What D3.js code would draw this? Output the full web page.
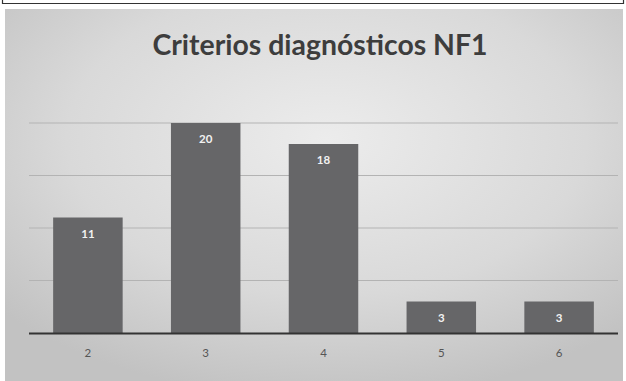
<!DOCTYPE html>
<html>
<head>
<meta charset="utf-8">
<script src="https://cdn.jsdelivr.net/npm/d3@7"></script>
<style>
  html, body { margin: 0; padding: 0; background: #fff; }
  svg { display: block; }
</style>
</head>
<body>
<div id="chart"></div>
<script>
const categories = ["2", "3", "4", "5", "6"];
const values = [11, 20, 18, 3, 3];
const gridTicks = [0, 5, 10, 15, 20];
const title = "Criterios diagnósticos NF1";

const W = 626, H = 381;

const svg = d3.select("#chart").append("svg")
  .attr("width", W)
  .attr("height", H);

const defs = svg.append("defs");
const grad = defs.append("radialGradient")
  .attr("id", "bg")
  .attr("cx", "52%").attr("cy", "35%").attr("r", "70%");
grad.append("stop").attr("offset", "0%").attr("stop-color", "#ececec");
grad.append("stop").attr("offset", "60%").attr("stop-color", "#d9d9d9");
grad.append("stop").attr("offset", "100%").attr("stop-color", "#c2c2c2");

// top frame remnant
svg.append("path")
  .attr("d", "M2.5,0 V3.5 H623.5 V0")
  .attr("fill", "none")
  .attr("stroke", "#333")
  .attr("stroke-width", 1.2);

// chart area
svg.append("rect")
  .attr("x", 5).attr("y", 9)
  .attr("width", 618).attr("height", H - 9)
  .attr("fill", "url(#bg)");

const x = d3.scaleBand()
  .domain(categories)
  .range([29, 618])
  .paddingInner(0.41)
  .paddingOuter(0.205);

const y = d3.scaleLinear()
  .domain([0, 20])
  .range([333, 123]);

// gridlines
svg.append("g")
  .selectAll("line")
  .data(gridTicks.filter(d => d > 0))
  .join("line")
  .attr("x1", 29).attr("x2", 618)
  .attr("y1", d => y(d)).attr("y2", d => y(d))
  .attr("stroke", "#b3b3b3")
  .attr("stroke-width", 1.2);

// bars
svg.append("g")
  .selectAll("rect")
  .data(values)
  .join("rect")
  .attr("x", (d, i) => x(categories[i]))
  .attr("y", d => y(d))
  .attr("width", x.bandwidth())
  .attr("height", d => y(0) - y(d))
  .attr("fill", "#666668");

// value labels
svg.append("g")
  .selectAll("text")
  .data(values)
  .join("text")
  .attr("x", (d, i) => x(categories[i]) + x.bandwidth() / 2)
  .attr("y", d => y(d) + 20)
  .attr("text-anchor", "middle")
  .attr("font-family", "Lato, 'Open Sans', sans-serif")
  .attr("font-size", 11.5)
  .attr("font-weight", "bold")
  .attr("fill", "#f2f2f2")
  .text(d => d);

// x axis
const xAxis = svg.append("g")
  .attr("transform", `translate(0, ${y(0)})`)
  .call(d3.axisBottom(x).tickSize(0).tickPadding(16));
xAxis.select(".domain")
  .attr("d", "M29,0.5H618")
  .attr("stroke", "#333")
  .attr("stroke-width", 2);
xAxis.selectAll("text")
  .attr("font-family", "Lato, 'Open Sans', sans-serif")
  .attr("font-size", 11.5)
  .attr("fill", "#555");

// title
svg.append("text")
  .attr("x", 320)
  .attr("y", 55)
  .attr("text-anchor", "middle")
  .attr("font-family", "Lato, 'Open Sans', sans-serif")
  .attr("font-size", 29)
  .attr("font-weight", "bold")
  .attr("fill", "#3d3d3d")
  .attr("textLength", 335)
  .attr("lengthAdjust", "spacingAndGlyphs")
  .text(title);
</script>
</body>
</html>
